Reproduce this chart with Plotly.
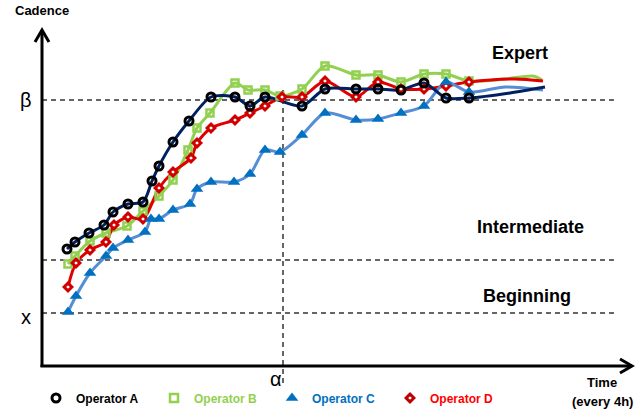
import plotly.graph_objects as go

# ---- data: time (units of 4h) and cadence ----
a_time = [2.5, 3.3, 4.7, 6.2, 7.1, 8.6, 10.1, 11.0, 11.7, 13.1, 14.7, 16.9, 19.3, 20.8, 22.3,
          26.0, 28.3, 31.4, 33.6, 35.9, 38.2, 40.4, 42.7, 46.8, 50.3]
a_cad = [11.7, 12.4, 13.3, 14.1, 15.4, 16.2, 16.4, 18.5, 20.0, 22.4, 24.5, 26.9, 26.9, 26.0, 26.9,
         26.0, 27.7, 27.7, 27.7, 27.6, 28.3, 26.8, 26.8, 27.3, 27.9]
a_marked = 23

b_time = [2.6, 3.3, 4.8, 6.4, 8.5, 10.1, 11.7, 13.1, 14.6, 15.5, 16.8, 19.3, 20.6, 22.3, 23.8,
          26.0, 28.3, 31.4, 33.6, 35.9, 38.2, 40.4, 42.7, 46.3, 49.1, 50.0]
b_cad = [10.2, 11.0, 12.5, 13.3, 14.0, 15.5, 17.0, 18.6, 21.6, 23.8, 25.3, 28.3, 27.6, 27.6, 27.0,
         27.7, 30.0, 29.1, 29.1, 28.4, 29.2, 29.2, 28.5, 28.7, 29.0, 28.6]
b_marked = 23

c_time = [2.6, 3.4, 4.8, 6.4, 7.1, 8.6, 10.3, 10.9, 11.7, 13.1, 14.8, 15.5, 16.9, 19.2, 20.8,
          22.3, 23.8, 26.0, 28.3, 31.4, 33.6, 35.9, 38.2, 40.4, 42.7, 46.3, 50.1]
c_cad = [5.4, 7.0, 9.3, 11.0, 11.8, 12.6, 13.4, 14.7, 14.7, 15.6, 16.2, 17.7, 18.4, 18.4, 19.2,
         21.6, 21.4, 23.1, 25.3, 24.6, 24.7, 25.3, 26.0, 28.4, 27.4, 27.9, 27.6]
c_marked = 25

d_time = [2.6, 3.4, 4.8, 6.4, 7.2, 8.6, 10.1, 11.7, 13.1, 14.9, 15.5, 16.9, 19.3, 20.8, 22.3,
          24.0, 26.0, 28.3, 31.4, 33.6, 35.9, 38.2, 40.4, 42.7, 47.3, 50.1]
d_cad = [7.9, 10.3, 11.6, 12.4, 14.1, 14.9, 14.7, 17.8, 19.4, 20.8, 22.3, 23.8, 24.6, 25.3, 26.0,
         26.9, 26.9, 28.5, 26.9, 28.4, 27.7, 27.7, 28.0, 28.4, 28.7, 28.5]
d_marked = 24

# thresholds
beta_level = 26.6
intermediate_level = 10.6
x_level = 5.3
alpha_time = 24.1

series = [
    ("Operator B", b_time, b_cad, b_marked, "#92D050",
     dict(symbol="square-open", size=7, color="#92D050", line=dict(color="#92D050", width=2.5)), "#92D050"),
    ("Operator D", d_time, d_cad, d_marked, "#E00000",
     dict(symbol="diamond", size=6, color="white", line=dict(color="#D00000", width=3)), "#FF0000"),
    ("Operator C", c_time, c_cad, c_marked, "#558ED5",
     dict(symbol="triangle-up", size=11, color="#0070C0", line=dict(width=0)), "#0070C0"),
    ("Operator A", a_time, a_cad, a_marked, "#002060",
     dict(symbol="circle-open", size=8, color="black", line=dict(color="black", width=3)), "black"),
]
legend_markers = {
    "Operator A": dict(symbol="circle", size=8, color="white", line=dict(color="black", width=3)),
    "Operator B": dict(symbol="square", size=8, color="white", line=dict(color="#92D050", width=2.5)),
    "Operator C": dict(symbol="triangle-up", size=11, color="#0070C0", line=dict(width=0)),
    "Operator D": dict(symbol="diamond", size=6, color="white", line=dict(color="#C00000", width=3)),
}

fig = go.Figure()
for name, t, v, n, lc, mk, tc in series:
    fig.add_trace(go.Scatter(x=t, y=v, mode="lines", showlegend=False, hoverinfo="skip",
                             line=dict(color=lc, width=3, shape="spline", smoothing=0.8)))
for name, t, v, n, lc, mk, tc in series:
    fig.add_trace(go.Scatter(x=t[:n], y=v[:n], mode="markers", marker=mk, showlegend=False, name=name))

# legend-only entries in A, B, C, D order
lookup = {s[0]: s for s in series}
for nm in ["Operator A", "Operator B", "Operator C", "Operator D"]:
    tc = lookup[nm][6]
    fig.add_trace(go.Scatter(x=[None], y=[None], mode="markers", marker=legend_markers[nm],
                             name=f"<b><span style='color:{tc}'>{nm}</span></b>"))

# ---- geometry helpers for decorations (pixel -> paper) ----
W, H = 642, 412
L, R, T, B = 42, 10, 29, 46
PW, PH = W - L - R, H - T - B


def px(xp):
    return (xp - L) / PW


def py(yp):
    return (H - B - yp) / PH


shapes = []
dash_style = dict(color="#333333", width=1.5, dash="5px,4px")
for lvl in (beta_level, intermediate_level, x_level):
    shapes.append(dict(type="line", xref="paper", yref="y", x0=0, x1=px(617), y0=lvl, y1=lvl,
                       line=dash_style, layer="below"))
shapes.append(dict(type="line", xref="x", yref="paper", x0=alpha_time, x1=alpha_time,
                   y0=py(383), y1=py(90), line=dash_style, layer="below"))

axis_style = dict(color="black", width=3)
shapes.append(dict(type="line", xref="paper", yref="paper", x0=0, x1=0, y0=py(367), y1=py(30),
                   line=axis_style))
shapes.append(dict(type="path", xref="paper", yref="paper",
                   path=f"M {px(35)},{py(42)} L {px(42)},{py(30)} L {px(49)},{py(42)}",
                   line=axis_style))
shapes.append(dict(type="line", xref="paper", yref="paper", x0=px(40.5), x1=px(632), y0=0, y1=0,
                   line=axis_style))
shapes.append(dict(type="path", xref="paper", yref="paper",
                   path=f"M {px(620)},{py(359)} L {px(632)},{py(366)} L {px(620)},{py(373)}",
                   line=axis_style))

fnt = "Liberation Sans, Arial, sans-serif"


def ann(text, xp, yp, size, bold=True):
    return dict(text=f"<b>{text}</b>" if bold else text, x=px(xp), y=py(yp), xref="paper",
                yref="paper", showarrow=False, xanchor="center", yanchor="middle",
                font=dict(family=fnt, size=size, color="black"))


annotations = [
    ann("Cadence", 42, 11, 13),
    ann("β", 26, 100, 20, bold=False),
    ann("x", 26, 317, 20, bold=False),
    ann("α", 276, 379, 20, bold=False),
    ann("Expert", 520, 53, 18),
    ann("Intermediate", 530, 227, 18),
    ann("Beginning", 527, 296, 18),
    ann("Time", 602, 382, 13),
    ann("(every 4h)", 602, 401, 13),
]

fig.update_layout(
    width=W, height=H,
    margin=dict(l=L, r=R, t=T, b=B, autoexpand=False),
    paper_bgcolor="white", plot_bgcolor="white",
    xaxis=dict(range=[0, PW / 10], visible=False),
    yaxis=dict(range=[0, PH / 10], visible=False),
    shapes=shapes, annotations=annotations,
    showlegend=True,
    legend=dict(orientation="h", x=px(36), xanchor="left", y=py(398), yanchor="middle",
                font=dict(family=fnt, size=12), entrywidth=73, entrywidthmode="pixels",
                bgcolor="rgba(0,0,0,0)", itemclick=False),
)

fig.write_html("out.html", config={"displayModeBar": False},
               post_script="document.body.style.margin='0';")
